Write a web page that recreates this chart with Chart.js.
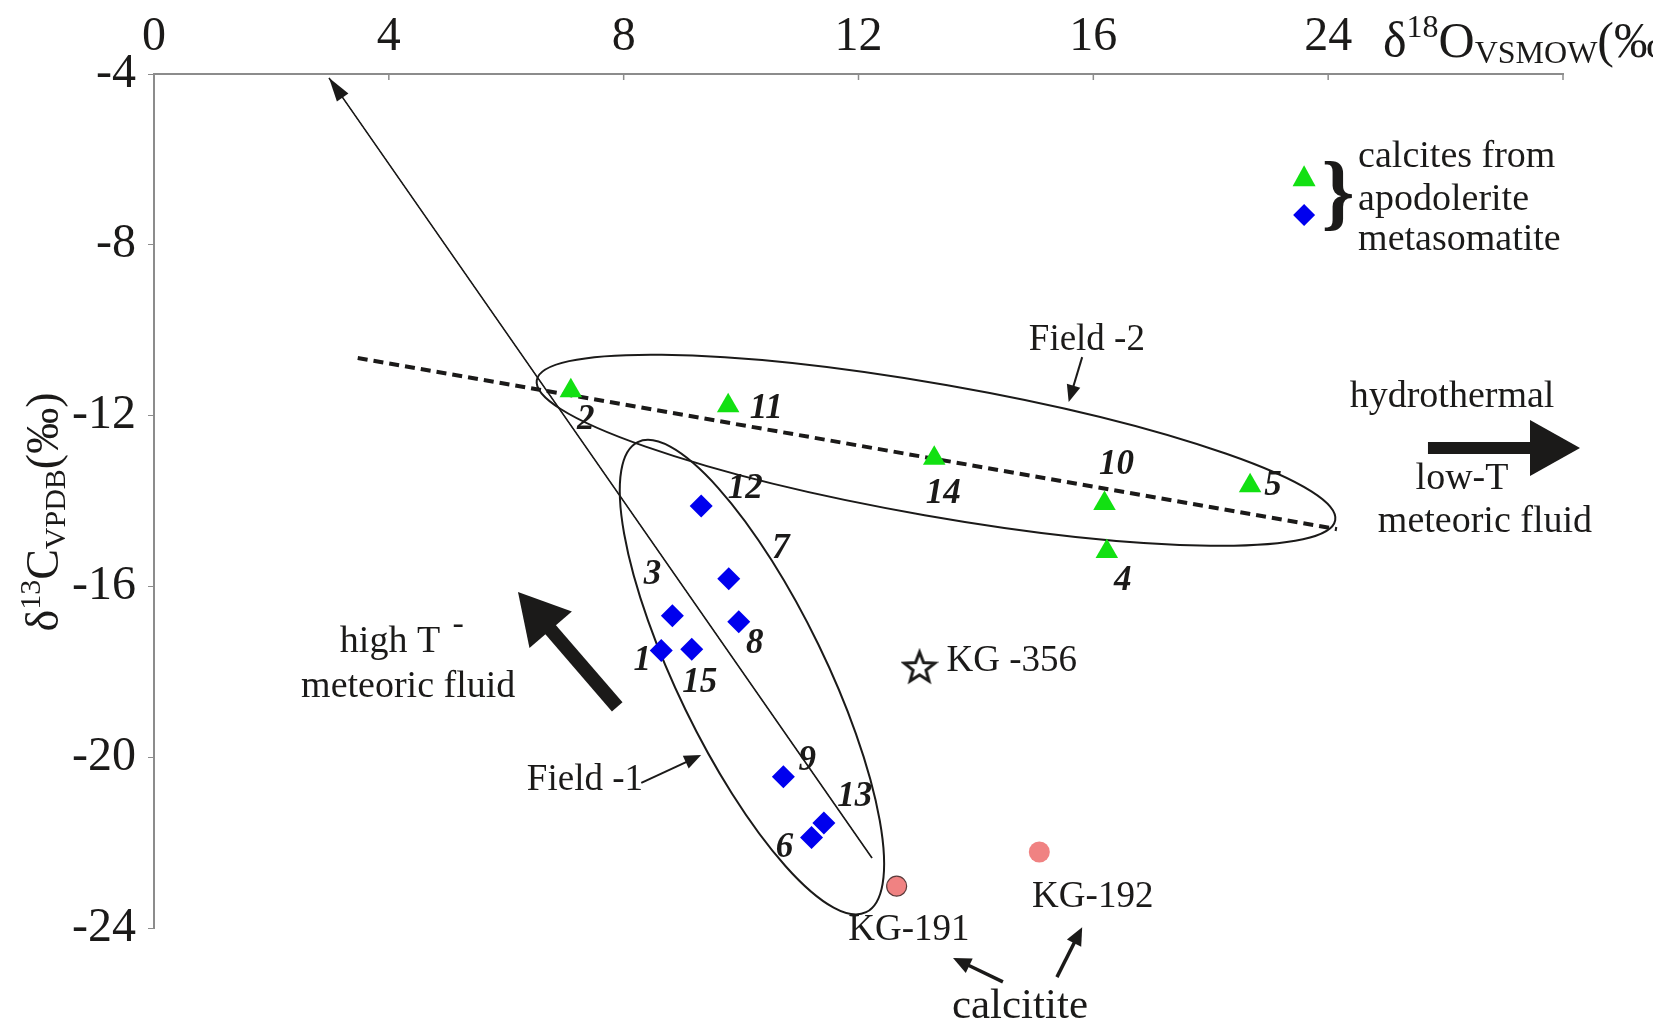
<!DOCTYPE html>
<html>
<head>
<meta charset="utf-8">
<script src="https://cdn.jsdelivr.net/npm/chart.js@4.4.1/dist/chart.umd.min.js"></script>
<style>
  html, body { margin: 0; padding: 0; background: #fff; }
  #wrap { width: 1653px; height: 1024px; }
</style>
</head>
<body>
<div id="wrap"><canvas id="isoChart" width="1653" height="1024"></canvas></div>
<script>
// values (d18O VSMOW, d13C VPDB)
const triX = [7.10, 9.78, 13.29, 16.19, 16.23, 18.67];
const triY = [-11.42, -11.77, -13.00, -14.06, -15.18, -13.64];
const triNames = ['2', '11', '14', '10', '4', '5'];

const diaX = [9.32, 9.79, 8.83, 9.96, 8.64, 9.16, 10.72, 11.41, 11.20];
const diaY = [-14.12, -15.82, -16.69, -16.83, -17.50, -17.47, -20.46, -21.54, -21.88];
const diaNames = ['12', '7', '3', '8', '1', '15', '9', '13', '6'];

const calcX = [12.65, 15.08];
const calcY = [-23.02, -22.22];
const calcNames = ['KG-191', 'KG-192'];

const starX = [13.04];
const starY = [-17.89];
const starNames = ['KG -356'];

const trendX = [3.47, 20.15];
const trendY = [-10.65, -14.66];

const pathX = [12.23, 2.98];
const pathY = [-22.36, -4.09];

const xTickValues = [0, 4, 8, 12, 16, 20, 24];
const xTickLabels = ['0', '4', '8', '12', '16', '24', ''];

// label offsets in px (placement only)
const triOffsets = [[15, 29], [38, 3], [9, 36], [12, -39], [16, 30], [23, 0]];
const diaOffsets = [[44, -17], [52, -30], [-20, -41], [16, 22], [-19, 11], [8, 34], [24, -16], [31, -26], [-27, 10]];

const SERIF = '"Liberation Serif", "Times New Roman", serif';
const INK = '#1b1a19';
const GREEN = '#12e012';
const BLUE = '#0000ee';
const SALMON = '#f08282';

const fields = [
  { from: [8.24, -12.62], to: [12.13, -23.63], half: 74 },
  { from: [6.52, -11.17], to: [20.12, -14.45], half: 66 }
];

const notes = [
  { t: 'Field -2', x: 15.89, y: -10.23, size: 37 },
  { t: 'Field -1', x: 7.34, y: -20.53, size: 37 },
  { t: 'hydrothermal', x: 22.11, y: -11.56, size: 38 },
  { t: 'low-T', x: 22.28, y: -13.48, size: 38 },
  { t: 'meteoric fluid', x: 22.67, y: -14.49, size: 38 },
  { t: 'high T', x: 4.02, y: -17.30, size: 38 },
  { t: '-', x: 5.18, y: -16.90, size: 34 },
  { t: 'meteoric fluid', x: 4.33, y: -18.36, size: 38 },
  { t: 'KG-191', x: 12.86, y: -24.05, size: 37 },
  { t: 'KG-192', x: 15.99, y: -23.27, size: 37 },
  { t: 'calcitite', x: 14.75, y: -25.85, size: 43 },
  { t: 'calcites from', x: 20.51, y: -5.94, size: 38, align: 'left' },
  { t: 'apodolerite', x: 20.51, y: -6.95, size: 38, align: 'left' },
  { t: 'metasomatite', x: 20.51, y: -7.89, size: 38, align: 'left' }
];

// arrows: from, to, shaft width, head length, head half width
const arrows = [
  { from: [15.81, -10.63], to: [15.58, -11.68], lw: 2, hl: 17, hw: 7 },
  { from: [8.30, -20.60], to: [9.32, -19.95], lw: 2, hl: 17, hw: 7 },
  { from: [21.70, -12.76], to: [24.29, -12.76], lw: 12, hl: 50, hw: 28 },
  { from: [7.89, -18.82], to: [6.20, -16.13], lw: 14, hl: 50, hw: 28 },
  { from: [14.46, -25.26], to: [13.61, -24.70], lw: 3.5, hl: 18, hw: 8 },
  { from: [15.38, -25.15], to: [15.81, -23.98], lw: 3.5, hl: 18, hw: 8 }
];

function toPts(xs, ys) { return xs.map((v, i) => ({ x: v, y: ys[i] })); }

function starImage() {
  const c = document.createElement('canvas');
  c.width = 38; c.height = 38;
  const g = c.getContext('2d');
  g.beginPath();
  for (let i = 0; i < 10; i++) {
    const r = i % 2 === 0 ? 16 : 6.8;
    const a = -Math.PI / 2 + i * Math.PI / 5;
    const px = 19 + r * Math.cos(a), py = 20 + r * Math.sin(a);
    if (i === 0) g.moveTo(px, py); else g.lineTo(px, py);
  }
  g.closePath();
  g.fillStyle = '#fff'; g.fill();
  g.lineWidth = 3; g.strokeStyle = INK; g.lineJoin = 'miter'; g.stroke();
  return c;
}

function arrow(ctx, x1, y1, x2, y2, lw, hl, hw) {
  const a = Math.atan2(y2 - y1, x2 - x1);
  const bx = x2 - hl * Math.cos(a), by = y2 - hl * Math.sin(a);
  ctx.lineWidth = lw;
  ctx.lineCap = 'butt';
  ctx.beginPath(); ctx.moveTo(x1, y1); ctx.lineTo(bx + Math.cos(a), by + Math.sin(a)); ctx.stroke();
  ctx.beginPath();
  ctx.moveTo(x2, y2);
  ctx.lineTo(bx + hw * Math.sin(a), by - hw * Math.cos(a));
  ctx.lineTo(bx - hw * Math.sin(a), by + hw * Math.cos(a));
  ctx.closePath(); ctx.fill();
}

function richText(ctx, parts, x, y, center) {
  let w = 0;
  parts.forEach(p => { ctx.font = p[1] + 'px ' + SERIF; w += ctx.measureText(p[0]).width; });
  let cx = center ? x - w / 2 : x;
  ctx.textAlign = 'left'; ctx.textBaseline = 'alphabetic';
  parts.forEach(p => {
    ctx.font = p[1] + 'px ' + SERIF;
    ctx.fillText(p[0], cx, y + p[2]);
    cx += ctx.measureText(p[0]).width;
  });
}

const backPlugin = {
  id: 'fields',
  beforeDatasetsDraw(chart) {
    const { ctx, scales: { x, y } } = chart;
    ctx.save();
    ctx.strokeStyle = INK; ctx.lineWidth = 2;
    fields.forEach(f => {
      const x1 = x.getPixelForValue(f.from[0]), y1 = y.getPixelForValue(f.from[1]);
      const x2 = x.getPixelForValue(f.to[0]), y2 = y.getPixelForValue(f.to[1]);
      ctx.beginPath();
      ctx.ellipse((x1 + x2) / 2, (y1 + y2) / 2, Math.hypot(x2 - x1, y2 - y1) / 2, f.half, Math.atan2(y2 - y1, x2 - x1), 0, Math.PI * 2);
      ctx.stroke();
    });
    ctx.restore();
  }
};

const frontPlugin = {
  id: 'notes',
  afterDatasetsDraw(chart) {
    const { ctx, scales: { x, y } } = chart;
    const X = v => x.getPixelForValue(v), Y = v => y.getPixelForValue(v);
    ctx.save();
    ctx.fillStyle = INK; ctx.strokeStyle = INK;

    // arrow head on the thin trend path
    arrow(ctx, X(pathX[0]), Y(pathY[0]), X(pathX[1]), Y(pathY[1]), 0, 24, 7);
    arrows.forEach(a => arrow(ctx, X(a.from[0]), Y(a.from[1]), X(a.to[0]), Y(a.to[1]), a.lw, a.hl, a.hw));

    // sample numbers
    ctx.font = 'italic bold 35px ' + SERIF;
    ctx.textAlign = 'center'; ctx.textBaseline = 'middle';
    triNames.forEach((n, i) => ctx.fillText(n, X(triX[i]) + triOffsets[i][0], Y(triY[i]) + triOffsets[i][1]));
    diaNames.forEach((n, i) => ctx.fillText(n, X(diaX[i]) + diaOffsets[i][0], Y(diaY[i]) + diaOffsets[i][1]));

    ctx.font = '37px ' + SERIF;
    ctx.textAlign = 'left';
    ctx.fillText(starNames[0], X(starX[0]) + 27, Y(starY[0]) - 6);

    notes.forEach(n => {
      ctx.font = n.size + 'px ' + SERIF;
      ctx.textAlign = n.align || 'center';
      ctx.textBaseline = 'middle';
      ctx.fillText(n.t, X(n.x), Y(n.y));
    });

    // legend swatches and brace
    const lx = X(19.59);
    ctx.fillStyle = GREEN;
    ctx.beginPath();
    ctx.moveTo(lx, Y(-6.44) - 13); ctx.lineTo(lx + 11.5, Y(-6.44) + 8); ctx.lineTo(lx - 11.5, Y(-6.44) + 8);
    ctx.closePath(); ctx.fill();
    ctx.fillStyle = BLUE;
    const dy = Y(-7.30);
    ctx.beginPath();
    ctx.moveTo(lx, dy - 11); ctx.lineTo(lx + 11, dy); ctx.lineTo(lx, dy + 11); ctx.lineTo(lx - 11, dy);
    ctx.closePath(); ctx.fill();
    ctx.fillStyle = INK;
    ctx.font = 'bold 84px ' + SERIF;
    ctx.textAlign = 'center'; ctx.textBaseline = 'alphabetic';
    ctx.fillText('}', X(20.17), Y(-6.83) + 25);

    // axis titles
    richText(ctx, [['\u03b4', 50, 0], ['18', 32, -20], ['O', 50, 0], ['VSMOW', 32, 6], ['(\u2030)', 50, 0]], 1383, 57, false);
    ctx.save();
    ctx.translate(58, 512);
    ctx.rotate(-Math.PI / 2);
    richText(ctx, [['\u03b4', 46, 0], ['13', 30, -18], ['C', 46, 0], ['VPDB', 30, 7], ['(\u2030)', 46, 0]], 0, 0, true);
    ctx.restore();

    // inward tick marks on the top axis
    ctx.strokeStyle = '#8c8c8c'; ctx.lineWidth = 1.5;
    xTickValues.forEach(v => {
      ctx.beginPath(); ctx.moveTo(X(v), y.top); ctx.lineTo(X(v), y.top + 6); ctx.stroke();
    });
    ctx.restore();
  }
};

new Chart(document.getElementById('isoChart'), {
  type: 'scatter',
  data: {
    datasets: [
      { data: toPts(triX, triY), pointStyle: 'triangle', pointRadius: 13, backgroundColor: GREEN, borderWidth: 0, order: 1 },
      { data: toPts(diaX, diaY), pointStyle: 'rectRot', pointRadius: 11.5, backgroundColor: BLUE, borderWidth: 0, order: 1 },
      { data: toPts(calcX, calcY), pointStyle: 'circle', pointRadius: [10, 10.5], backgroundColor: SALMON, borderColor: ['#5a3a3a', SALMON], borderWidth: [1.2, 0], order: 1 },
      { data: toPts(starX, starY), pointStyle: starImage(), pointRadius: 16, order: 1 },
      { data: toPts(trendX, trendY), showLine: true, borderColor: INK, borderWidth: 4, borderDash: [10, 6], pointRadius: 0, order: 5 },
      { data: toPts(pathX, pathY), showLine: true, borderColor: INK, borderWidth: 1.6, pointRadius: 0, order: 5 }
    ]
  },
  options: {
    responsive: false,
    devicePixelRatio: 1,
    animation: false,
    layout: { padding: { left: 0, top: 0, right: 90, bottom: 96 } },
    plugins: { legend: { display: false }, tooltip: { enabled: false } },
    scales: {
      x: {
        type: 'linear', position: 'top', min: 0, max: 24,
        afterFit: s => { s.height = 74; },
        border: { color: '#8c8c8c', width: 2 },
        grid: { display: true, drawOnChartArea: false, drawTicks: false },
        ticks: {
          stepSize: 4, padding: 8, color: INK,
          font: { family: SERIF, size: 48 },
          callback: v => xTickLabels[xTickValues.indexOf(v)]
        }
      },
      y: {
        type: 'linear', min: -24, max: -4,
        afterFit: s => { s.width = 154; },
        border: { color: '#8c8c8c', width: 2 },
        grid: { display: true, drawOnChartArea: false, drawTicks: true, tickLength: 6, color: '#8c8c8c' },
        ticks: { stepSize: 4, padding: 12, color: INK, font: { family: SERIF, size: 48 } }
      }
    }
  },
  plugins: [backPlugin, frontPlugin]
});
</script>
</body>
</html>
